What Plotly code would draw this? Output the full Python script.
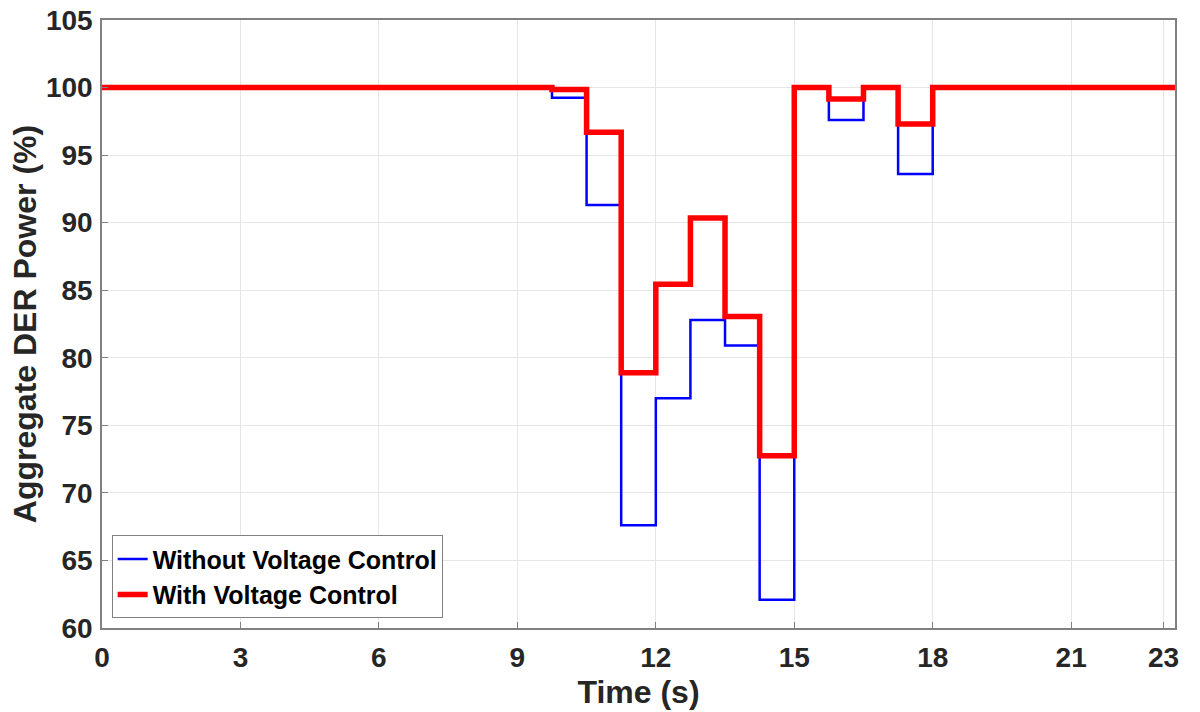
import plotly.graph_objects as go

# step change times (s) and aggregate DER power (%) held from each time onwards
time_s = [0, 9.75, 10.5, 11.25, 12, 12.75, 13.5, 14.25, 15, 15.75, 16.5, 17.25, 18, 23.25]
without_vc = [100, 99.25, 91.3, 67.6, 77.0, 82.8, 80.9, 62.1, 100, 97.6, 100, 93.6, 100, 100]
with_vc = [100, 99.85, 96.7, 78.9, 85.45, 90.35, 83.05, 72.75, 100, 99.15, 100, 97.3, 100, 100]

x_ticks = [0, 3, 6, 9, 12, 15, 18, 21, 23]
y_ticks = [60, 65, 70, 75, 80, 85, 90, 95, 100, 105]

fig = go.Figure()

fig.add_trace(go.Scatter(
    x=time_s, y=without_vc, mode='lines', line_shape='hv',
    line=dict(color='#0000ff', width=2.5),
    name='Without Voltage Control'))

fig.add_trace(go.Scatter(
    x=time_s, y=with_vc, mode='lines', line_shape='hv',
    line=dict(color='#ff0000', width=5.5),
    name='With Voltage Control'))

tick_font = dict(family='Liberation Sans', size=28, color='#262626', weight='bold')
title_font = dict(family='Liberation Sans', size=32, color='#262626', weight='bold')

fig.update_layout(
    width=1200, height=712,
    paper_bgcolor='white', plot_bgcolor='white',
    margin=dict(l=102, r=25, t=20, b=84),
    font=dict(family='Liberation Sans', color='#262626'),
    legend=dict(
        x=0.009, y=0.016, xanchor='left', yanchor='bottom',
        bgcolor='white', bordercolor='#808080', borderwidth=1,
        font=dict(family='Liberation Sans', size=25, color='black', weight='bold'),
        tracegroupgap=0, itemwidth=30),
)

fig.update_xaxes(
    range=[0, 23.25], tickvals=x_ticks, tickfont=tick_font, automargin=False,
    ticklabelstandoff=4, ticklabeloverflow='allow',
    title=dict(text='Time (s)', font=title_font, standoff=8),
    showgrid=True, gridcolor='#e6e6e6', gridwidth=1,
    showline=True, linecolor='#808080', linewidth=1.5, mirror=True,
    ticks='inside', ticklen=6, tickcolor='#808080', zeroline=False)

fig.update_yaxes(
    range=[60, 105], tickvals=y_ticks, tickfont=tick_font, automargin=False,
    ticklabelstandoff=2, ticklabeloverflow='allow',
    title=dict(text='Aggregate DER Power (%)', font=title_font, standoff=0),
    showgrid=True, gridcolor='#e6e6e6', gridwidth=1,
    showline=True, linecolor='#808080', linewidth=1.5, mirror=True,
    ticks='inside', ticklen=6, tickcolor='#808080', zeroline=False)

# drop the default 8px page margin so the figure sits at the window's corner
fig.write_html("out.html", config={'displayModeBar': False},
               post_script="document.body.style.margin='0';")
